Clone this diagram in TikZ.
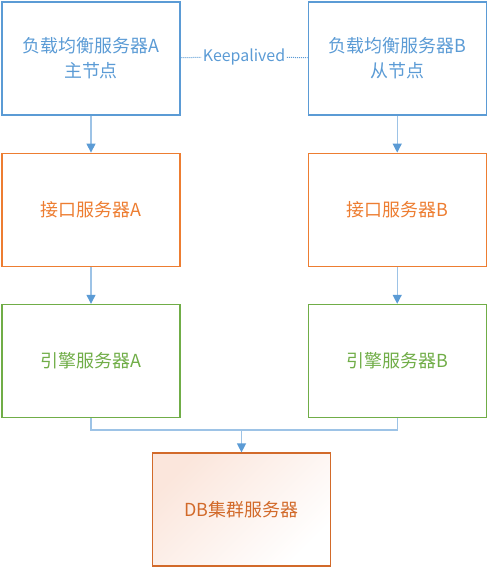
\documentclass[tikz,border=0pt]{standalone}
\usepackage{fontspec}
\setmainfont{Noto Sans CJK SC}
\usetikzlibrary{positioning,arrows.meta}
\definecolor{lbblue}{HTML}{5B9BD5}
\definecolor{lnblue}{HTML}{9DC3E6}
\definecolor{apiorange}{HTML}{ED7D31}
\definecolor{enggreen}{HTML}{70AD47}
\definecolor{dborange}{HTML}{D26A2A}
\definecolor{dbpink}{HTML}{FBE6DC}

\begin{document}
\begin{tikzpicture}[x=1bp, y=-1bp,
    srv/.style={draw, line width=1.2bp, minimum width=178bp, minimum height=113bp,
      align=center, font=\fontsize{18}{25}\selectfont},
    flow/.style={draw=lnblue, line width=1.3bp, -{Triangle[width=9bp,length=9bp,color=lbblue]}}]
    \useasboundingbox (0,0) rectangle (488,568);
    \node [srv, draw=lbblue, text=lbblue] (lbA) at (91,58.5) {负载均衡服务器A\\主节点};
    \node [srv, draw=lbblue, text=lbblue, right = 127bp of lbA] (lbB) {负载均衡服务器B\\从节点};
    \node [srv, draw=apiorange, text=apiorange, below = 37bp of lbA] (apiA) {接口服务器A};
    \node [srv, draw=apiorange, text=apiorange, below = 37bp of lbB] (apiB) {接口服务器B};
    \node [srv, draw=enggreen, text=enggreen, below = 37bp of apiA] (engA) {引擎服务器A};
    \node [srv, draw=enggreen, text=enggreen, below = 37bp of apiB] (engB) {引擎服务器B};
    \node [srv, draw=dborange, text=dborange, top color=dbpink, middle color=white,
      bottom color=white, shading angle=45] (db) at (241.5,509.5) {DB集群服务器};
    \node [text=lbblue, font=\fontsize{16}{18}\selectfont, inner sep=1.5bp] (ka) at (244,57) {Keepalived};
    \coordinate (j) at (241.5,430);
    \draw [lbblue, line width=1bp, densely dotted] (lbA) -- (ka) -- (lbB);
    \draw [flow] (lbA) -- (apiA);
    \draw [flow] (lbB) -- (apiB);
    \draw [flow] (apiA) -- (engA);
    \draw [flow] (apiB) -- (engB);
    \draw [draw=lnblue, line width=1.3bp] (engA) |- (j) -| (engB);
    \draw [flow] (j) -- (db);
\end{tikzpicture}
\end{document}
